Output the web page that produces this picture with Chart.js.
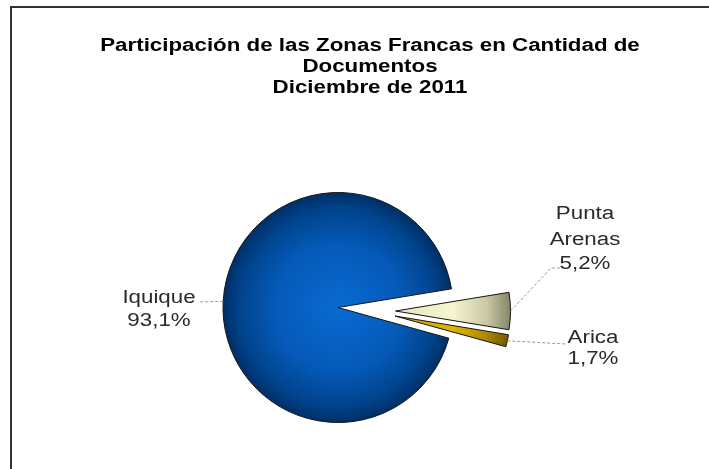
<!DOCTYPE html>
<html><head><meta charset="utf-8">
<script src="https://cdn.jsdelivr.net/npm/chart.js@4/dist/chart.umd.min.js"></script>
<style>html,body{margin:0;padding:0;background:#fff;overflow:hidden}canvas{display:block}</style>
</head><body>
<canvas id="c" width="709" height="469"></canvas>
<script>
// ---- data ----
const categories = ['Iquique', 'Punta Arenas', 'Arica'];
const shares = [93.1, 5.2, 1.7];
const titleLines = ['Participación de las Zonas Francas en Cantidad de', 'Documentos', 'Diciembre de 2011'];

// ---- style ----
const style = {
  center: [338, 307.5], radius: 115, rotation: 105.5,
  explode: [[0, 0], [57.5, 3.5], [57, 8.5]],
  fills: [
    [[0, '#0a6ad2'], [0.55, '#055ab8'], [0.85, '#00448e'], [1, '#002f66']],
    [[0, '#e4e4be'], [0.5, '#f5f5d2'], [0.8, '#c8c8a4'], [1, '#86866a']],
    [[0, '#c99e00'], [0.5, '#e2b600'], [0.8, '#b08a00'], [1, '#765a00']]
  ],
  titleFont: 'bold 18px "Liberation Sans", Arial, sans-serif',
  titleX: 370, titleY: [51, 72, 93], titleScale: 1.24,
  labelFont: '18px "Liberation Sans", Arial, sans-serif', labelScale: 1.24,
  labels: [
    { x: 159, y: [303, 326], leader: [[198, 302]] },
    { x: 585, y: [219, 245, 269], leader: [[551, 268], [562, 268]] },
    { x: 593, y: [343, 364], leader: [[566, 344]] }
  ]
};

function fmt(v) { return v.toFixed(1).replace('.', ',') + '%'; }

function drawScaledText(ctx, text, x, y, sx) {
  ctx.save();
  ctx.translate(x, y);
  ctx.scale(sx, 1);
  ctx.fillText(text, 0, 0);
  ctx.restore();
}

const explodePlugin = {
  id: 'explode',
  afterDatasetUpdate(chart, args) {
    const meta = chart.getDatasetMeta(args.index);
    meta.data.forEach((arc, i) => {
      const e = style.explode[i];
      if (!e || (!e[0] && !e[1]) || arc.__exploded) return;
      const orig = arc.draw;
      arc.draw = function (ctx, area) {
        ctx.save();
        ctx.translate(e[0], e[1]);
        orig.call(this, ctx, area);
        ctx.restore();
      };
      arc.__exploded = true;
    });
  }
};

const decorPlugin = {
  id: 'decor',
  beforeDraw(chart) {
    const ctx = chart.ctx;
    ctx.save();
    ctx.fillStyle = '#fff';
    ctx.fillRect(0, 0, chart.width, chart.height);
    ctx.strokeStyle = '#333';
    ctx.lineWidth = 2;
    ctx.beginPath();
    ctx.moveTo(11, chart.height + 2);
    ctx.lineTo(11, 7);
    ctx.lineTo(chart.width + 2, 7);
    ctx.stroke();
    ctx.restore();
  },
  afterDatasetsDraw(chart) {
    const ctx = chart.ctx;
    const meta = chart.getDatasetMeta(0);
    ctx.save();
    // title
    ctx.fillStyle = '#000';
    ctx.font = style.titleFont;
    ctx.textAlign = 'center';
    ctx.textBaseline = 'alphabetic';
    titleLines.forEach((t, k) => drawScaledText(ctx, t, style.titleX, style.titleY[k], style.titleScale));
    // leaders + labels
    meta.data.forEach((arc, i) => {
      const p = arc.getProps(['x', 'y', 'startAngle', 'endAngle', 'outerRadius'], true);
      const a = (p.startAngle + p.endAngle) / 2;
      const e = style.explode[i];
      const sx = p.x + e[0] + Math.cos(a) * p.outerRadius;
      const sy = p.y + e[1] + Math.sin(a) * p.outerRadius;
      const L = style.labels[i];
      ctx.strokeStyle = '#9a9a9a';
      ctx.lineWidth = 1;
      ctx.setLineDash([3, 2]);
      ctx.beginPath();
      ctx.moveTo(sx, sy);
      L.leader.forEach(pt => ctx.lineTo(pt[0], pt[1]));
      ctx.stroke();
      ctx.setLineDash([]);
      const lines = categories[i].split(' ').concat([fmt(shares[i])]);
      ctx.fillStyle = '#2a2a2a';
      ctx.font = style.labelFont;
      ctx.textAlign = 'center';
      lines.forEach((t, k) => drawScaledText(ctx, t, L.x, L.y[k], style.labelScale));
    });
    ctx.restore();
  }
};

const [cx, cy] = style.center;
new Chart(document.getElementById('c'), {
  type: 'pie',
  data: {
    labels: categories,
    datasets: [{
      data: shares,
      backgroundColor: (c) => {
        const stops = style.fills[c.dataIndex];
        if (!stops) return '#888';
        const g = c.chart.ctx.createRadialGradient(cx, cy, 0, cx, cy, style.radius);
        stops.forEach(s => g.addColorStop(s[0], s[1]));
        return g;
      },
      borderColor: '#151515',
      borderWidth: 1,
      borderJoinStyle: 'miter'
    }]
  },
  options: {
    responsive: false,
    animation: false,
    events: [],
    rotation: style.rotation,
    radius: style.radius,
    layout: { padding: { left: 0, right: 709 - 2 * cx, top: 2 * cy - 469, bottom: 0 } },
    plugins: { legend: { display: false }, tooltip: { enabled: false }, title: { display: false } }
  },
  plugins: [explodePlugin, decorPlugin]
});
</script>
</body></html>
